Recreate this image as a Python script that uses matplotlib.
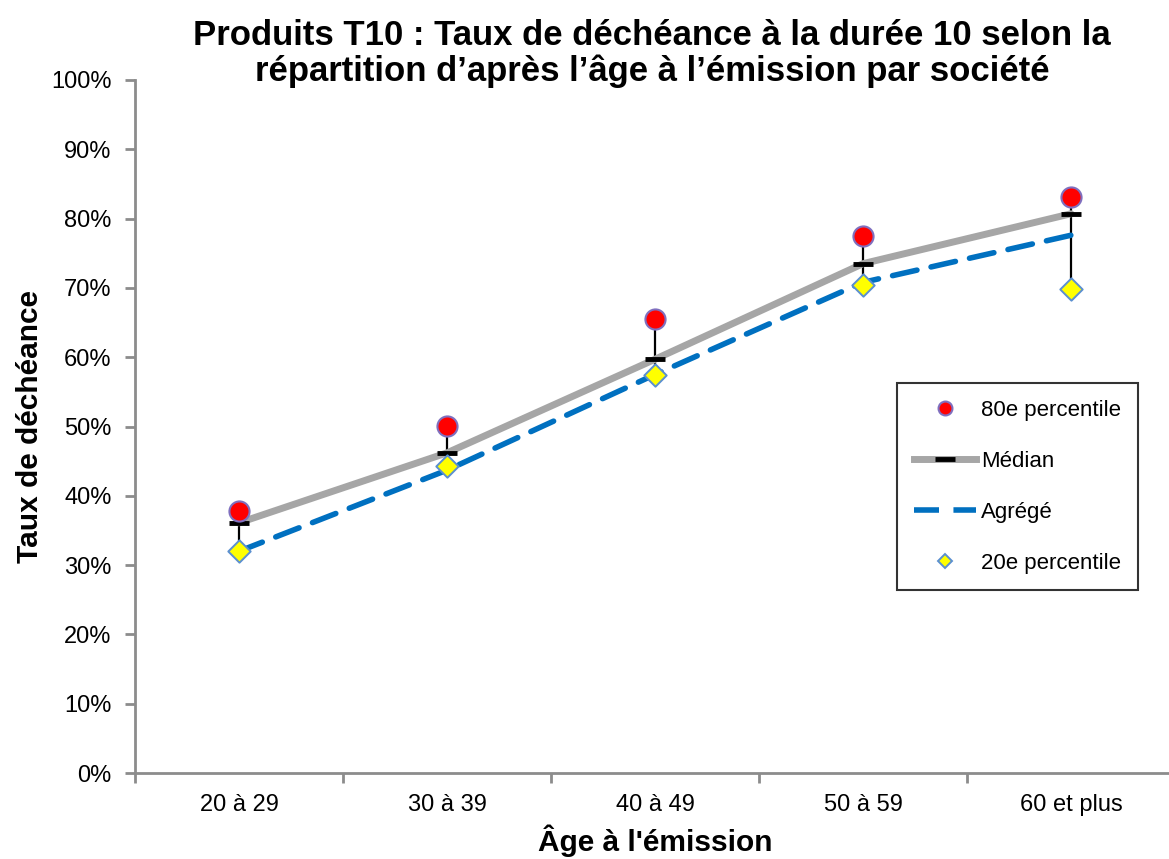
import matplotlib.pyplot as plt
from matplotlib.ticker import FuncFormatter, FixedLocator
from matplotlib.lines import Line2D

plt.rcParams['font.family'] = ['Liberation Sans', 'DejaVu Sans']

categories = ["20 à 29", "30 à 39", "40 à 49", "50 à 59", "60 et plus"]
p80 = [37.8, 50.1, 65.5, 77.5, 83.1]
median = [36.1, 46.2, 59.7, 73.5, 80.7]
aggregate = [32.0, 43.7, 57.5, 70.8, 77.6]
p20 = [32.0, 44.3, 57.4, 70.4, 69.9]

x = list(range(len(categories)))

fig = plt.figure(figsize=(11.69, 8.59), dpi=100)
ax = fig.add_axes([135 / 1169, 86 / 859, 1040 / 1169, 693 / 859])

# high-low lines from 20th to 80th percentile
ax.vlines(x, p20, p80, color="black", lw=1.6, zorder=2)

ax.plot(x, median, color="#a6a6a6", lw=5, solid_capstyle="round", zorder=3)
ax.plot(x, median, ls="none", marker="_", ms=14, mew=3.5, color="black", zorder=4)
ax.plot(x, aggregate, color="#0070c0", lw=4, ls=(0, (4.5, 2.6)),
        dash_capstyle="round", zorder=3)
ax.scatter(x, p80, s=210, color="red", edgecolor="#7f6fbf", lw=1.5, zorder=5)
ax.scatter(x, p20, s=130, marker="D", color="yellow", edgecolor="#5b8fd0",
           lw=1.4, zorder=5)

ax.set_xlim(-0.5, 4.5)
ax.set_ylim(0, 100)
ax.set_yticks(range(0, 101, 10))
ax.yaxis.set_major_formatter(FuncFormatter(lambda v, _: f"{v:.0f}%"))
ax.set_xticks(x)
ax.set_xticklabels(categories)
ax.xaxis.set_minor_locator(FixedLocator([-0.5, 0.5, 1.5, 2.5, 3.5, 4.5]))
ax.tick_params(axis="x", which="major", length=0, pad=15, labelsize=17)
ax.tick_params(axis="x", which="minor", length=7, width=2, color="#8c8c8c")
ax.tick_params(axis="y", length=7, width=2, color="#8c8c8c", labelsize=17, pad=10)

for s in ["top", "right"]:
    ax.spines[s].set_visible(False)
for s in ["left", "bottom"]:
    ax.spines[s].set_color("#8c8c8c")
    ax.spines[s].set_linewidth(2)

ax.set_xlabel("Âge à l'émission", fontsize=21.5, fontweight="bold", labelpad=6)
ax.set_ylabel("Taux de déchéance", fontsize=21.5, fontweight="bold", labelpad=5)
fig.text(0.558, 0.938, "Produits T10 : Taux de déchéance à la durée 10 selon la\n"
         "répartition d’après l’âge à l’émission par société",
         ha="center", va="center", fontsize=25, fontweight="bold", linespacing=1.08)

handles = [
    Line2D([], [], ls="none", marker="o", ms=10, color="red", mec="#7f6fbf", mew=1.5),
    Line2D([], [], color="#a6a6a6", lw=5, marker="_", ms=14, mew=3.5, mfc="black", mec="black"),
    Line2D([], [], color="#0070c0", lw=4, ls=(0, (4.5, 2.6))),
    Line2D([], [], ls="none", marker="D", ms=7.5, color="yellow", mec="#5b8fd0", mew=1.4),
]
leg = ax.legend(handles, ["80e percentile", "Médian", "Agrégé", "20e percentile"],
                loc="upper left", bbox_to_anchor=(762 / 1040, (773 - 383) / 693),
                borderaxespad=0, fontsize=16, frameon=True, fancybox=False,
                handlelength=2.8, handletextpad=0.25, labelspacing=1.35,
                borderpad=0.75)
leg.get_frame().set_edgecolor("black")
leg.get_frame().set_linewidth(1.5)

fig.savefig("out.png", dpi=100)
